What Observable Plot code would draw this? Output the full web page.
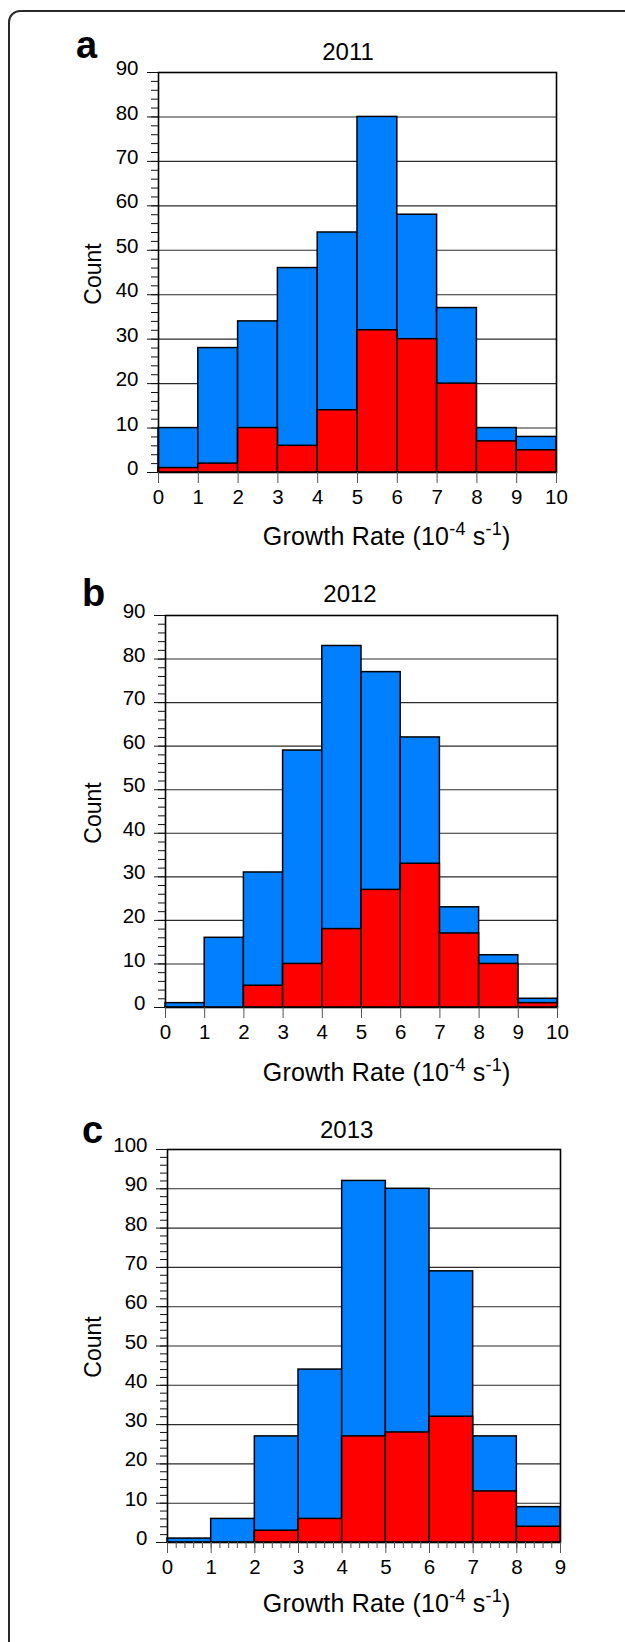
<!DOCTYPE html>
<html><head><meta charset="utf-8">
<script src="https://cdn.jsdelivr.net/npm/d3@7"></script>
<script src="https://cdn.jsdelivr.net/npm/@observablehq/plot@0.6"></script>
<style>
html,body{margin:0;padding:0;background:#fff;}
body{width:625px;height:1642px;position:relative;overflow:hidden;font-family:"Liberation Sans",Arial,Helvetica,sans-serif;color:#000;}
.outer{position:absolute;left:8px;top:10px;width:900px;height:2000px;border:2px solid #2a2a2a;border-top-left-radius:12px;box-sizing:border-box;}
.t{position:absolute;white-space:nowrap;line-height:1;}
.sup{font-size:0.72em;position:relative;top:-0.55em;}
svg.panel{position:absolute;left:0;}
svg.panel text{font-size:20.5px;}
</style></head><body>
<div class="outer"></div>
<script>
// ---- data ----
const panelLetters = ["a", "b", "c"];
const years = ["2011", "2012", "2013"];
const yLabel = "Count";
const xLabelParts = ["Growth Rate (10", "-4", " s", "-1", ")"];

const binStarts2011 = [0, 1, 2, 3, 4, 5, 6, 7, 8, 9];
const total2011 = [10, 28, 34, 46, 54, 80, 58, 37, 10, 8];
const red2011   = [1, 2, 10, 6, 14, 32, 30, 20, 7, 5];

const binStarts2012 = [0, 1, 2, 3, 4, 5, 6, 7, 8, 9];
const total2012 = [1, 16, 31, 59, 83, 77, 62, 23, 12, 2];
const red2012   = [0, 0, 5, 10, 18, 27, 33, 17, 10, 1];

const binStarts2013 = [0, 1, 2, 3, 4, 5, 6, 7, 8];
const total2013 = [1, 6, 27, 44, 92, 90, 69, 27, 9];
const red2013   = [0, 0, 3, 6, 27, 28, 32, 13, 4];

const xTicks10 = [0, 1, 2, 3, 4, 5, 6, 7, 8, 9, 10];
const xTicks9 = [0, 1, 2, 3, 4, 5, 6, 7, 8, 9];
const yTicks90 = [0, 10, 20, 30, 40, 50, 60, 70, 80, 90];
const yTicks100 = [0, 10, 20, 30, 40, 50, 60, 70, 80, 90, 100];

// ---- layout ----
const FONT = '"Liberation Sans", Arial, Helvetica, sans-serif';
const BLUE = "#0080ff", RED = "#ff0000";

function text(html, {x, baseline, size, anchor = "start", bold = false, rotate = false, cy, spacing}) {
  const d = document.createElement("div");
  d.className = "t";
  d.innerHTML = html;
  d.style.fontSize = size + "px";
  if (spacing) d.style.letterSpacing = spacing + "px";
  if (bold) d.style.fontWeight = "bold";
  if (rotate) {
    d.style.left = x + "px";
    d.style.top = cy + "px";
    d.style.transform = "translate(-50%,-50%) rotate(-90deg)";
  } else {
    d.style.left = x + "px";
    d.style.top = (baseline - 0.8465 * size) + "px";
    if (anchor === "middle") d.style.transform = "translateX(-50%)";
  }
  document.body.appendChild(d);
}

function panel(cfg) {
  const {starts, total, red, xMax, yMax, xTicks, yTicks, minorX, L, R, T, B} = cfg;
  const mt = 15, mb = 44;
  const top = T - mt;
  const height = B - top + mb;
  const bins = starts.map((s, i) => ({x1: s, x2: s + 1, total: total[i], red: red[i]}));
  const minorY = d3.range(0, yMax + 1, 2);
  const chart = Plot.plot({
    width: 625, height,
    marginLeft: L, marginRight: 625 - R, marginTop: mt, marginBottom: mb,
    x: {domain: [0, xMax]},
    y: {domain: [0, yMax]},
    style: {fontFamily: FONT, fontSize: "20.5px", background: "transparent", overflow: "visible", color: "#000"},
    marks: [
      Plot.gridY(yTicks.filter(v => v > 0 && v < yMax), {stroke: "#2b2b2b", strokeOpacity: 1, strokeWidth: 1.1}),
      Plot.rectY(bins.filter(d => d.total > 0), {x1: "x1", x2: "x2", y1: 0, y2: "total", fill: BLUE, stroke: "#000", strokeWidth: 1.5}),
      Plot.rectY(bins.filter(d => d.red > 0), {x1: "x1", x2: "x2", y1: 0, y2: "red", fill: RED, stroke: "#000", strokeWidth: 1.5}),
      Plot.frame({stroke: "#000", strokeWidth: 1.6}),
      Plot.axisY(minorY, {tickSize: 7, fill: "none", label: null, stroke: "#111"}),
      Plot.axisY(yTicks, {tickSize: 11, fill: "none", label: null, stroke: "#111"}),
      Plot.axisY(yTicks, {tickSize: 0, tickPadding: 20, dy: -4, fontSize: 20.5, label: null}),
      Plot.axisX(xTicks, {tickSize: 11, tickPadding: 6, fontSize: 20.5, label: null, stroke: "#555"}),
      minorX ? Plot.axisX(minorX, {tickSize: 6, fill: "none", label: null, stroke: "#555"}) : null
    ]
  });
  chart.classList.add("panel");
  chart.style.top = top + "px";
  document.body.appendChild(chart);
}

const xTitleHtml = `${xLabelParts[0]}<span class="sup">${xLabelParts[1]}</span>${xLabelParts[2]}<span class="sup">${xLabelParts[3]}</span>${xLabelParts[4]}`;

const panels = [
  {starts: binStarts2011, total: total2011, red: red2011, xMax: 10, yMax: 90, xTicks: xTicks10, yTicks: yTicks90,
   L: 158, R: 556, T: 72, B: 472,
   letter: {x: 76, baseline: 58.5}, title: {x: 348, baseline: 60}, count: {x: 92.7, cy: 274}, xt: {x: 386.6, baseline: 545}},
  {starts: binStarts2012, total: total2012, red: red2012, xMax: 10, yMax: 90, xTicks: xTicks10, yTicks: yTicks90,
   L: 165, R: 557, T: 615, B: 1007,
   letter: {x: 82, baseline: 606.5}, title: {x: 350, baseline: 602.7}, count: {x: 92.5, cy: 813}, xt: {x: 386.6, baseline: 1081.4}},
  {starts: binStarts2013, total: total2013, red: red2013, xMax: 9, yMax: 100, xTicks: xTicks9, yTicks: yTicks100,
   minorX: d3.range(0, 46).map(i => i / 5),
   L: 167, R: 560, T: 1149, B: 1542,
   letter: {x: 82, baseline: 1143.6}, title: {x: 346.7, baseline: 1138}, count: {x: 92.5, cy: 1347}, xt: {x: 386.6, baseline: 1612}}
];

panels.forEach((p, i) => {
  panel(p);
  text(panelLetters[i], {x: p.letter.x, baseline: p.letter.baseline, size: 38, bold: true});
  text(years[i], {x: p.title.x, baseline: p.title.baseline, size: 24, anchor: "middle"});
  text(yLabel, {x: p.count.x, cy: p.count.cy, size: 23, rotate: true});
  text(xTitleHtml, {x: p.xt.x, baseline: p.xt.baseline, size: 25, anchor: "middle", spacing: 0.2});
});
</script>
</body></html>
